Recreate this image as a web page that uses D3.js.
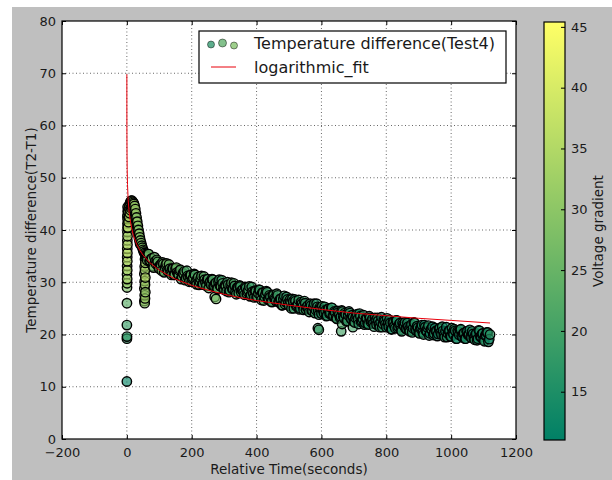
<!DOCTYPE html>
<html>
<head>
<meta charset="utf-8">
<script src="https://cdn.jsdelivr.net/npm/d3@7"></script>
<style>
  body { margin: 0; background: #fff; }
  svg text { font-family: "DejaVu Sans", sans-serif; fill: #1a1a1a; }
</style>
</head>
<body>
<div id="draw_here"></div>
<script type="text/javascript">
    // Data
    xTicks = [-200, 0, 200, 400, 600, 800, 1000, 1200]
    yTicks = [0, 10, 20, 30, 40, 50, 60, 70, 80]
    cbarTicks = [15, 20, 25, 30, 35, 40, 45]
    xlim = [-200, 1200]
    ylim = [0, 80]
    vlim = [11.03, 45.4]

    // start of the run: low points, column at t=0, peak, dip column
    earlyTime = [
        0.0, 0.2, 0.4, 0.1, 0.3, 0.5,
        0.8, 1.0, 0.6, 1.2, 0.9, 1.4, 1.1, 1.6, 1.3, 1.8, 1.5, 2.0, 1.7, 2.2, 1.9, 2.4, 2.1, 2.6, 2.3,
        2, 4, 6, 8, 10, 12, 14, 16, 18, 20, 22, 24, 26, 28, 30, 32, 34, 36, 38, 40, 42, 44, 46, 48, 50, 52, 54, 56, 58, 60, 62,
        3, 5, 7, 9, 11, 13, 15, 17, 19, 21, 23, 25, 27, 29, 31, 33, 35, 37, 39, 41,
        55, 54, 56, 55, 57, 54, 56, 55, 57, 54, 56, 55, 57, 56, 58
    ]
    earlyTemp = [
        11.0, 19.2, 19.6, 21.8, 26.0, 29.0,
        29.8, 30.6, 31.5, 32.3, 33.1, 34.0, 34.8, 35.6, 36.4, 37.2, 38.0, 38.8, 39.6, 40.4, 41.2, 42.0, 42.8, 43.6, 44.4,
        42.5, 43.5, 44.2, 44.8, 45.2, 45.5, 45.6, 45.6, 45.4, 45.2, 45.0, 44.6, 44.0, 43.2, 42.4, 41.6, 40.8, 40.0, 39.3, 38.6, 38.0, 37.5, 37.0, 36.6, 36.2, 35.9, 35.6, 35.4, 35.2, 35.0, 34.9,
        40.5, 41.5, 42.5, 43.2, 43.8, 44.2, 44.5, 44.6, 44.4, 44.1, 43.6, 43.0, 42.3, 41.5, 40.7, 40.0, 39.2, 38.5, 37.9, 37.3,
        26.0, 26.4, 26.9, 27.5, 28.1, 28.8, 29.5, 30.2, 30.9, 31.6, 32.3, 33.0, 33.7, 34.4, 35.1
    ]
    earlyVolt = [
        12, 17, 17.5, 18.5, 23, 28,
        31, 33, 30, 34, 32, 35, 33, 36, 34, 35, 32, 34, 31, 33, 30, 32, 29, 31, 28,
        31, 32, 33, 31, 34, 32, 33, 30, 32, 31, 33, 30, 32, 31, 29, 31, 30, 28, 30, 29, 28, 29, 27, 28, 29, 27, 28, 29, 27, 28, 27,
        36, 35, 34, 33, 32, 34, 33, 31, 33, 32, 31, 33, 30, 32, 31, 30, 31, 29, 30, 29,
        30, 31, 32, 33, 31, 34, 32, 33, 35, 31, 33, 34, 32, 33, 30
    ]

    // main decaying band, samples on whole 5 s
    bandTime = [
        65, 70, 75, 80, 85, 90, 95, 100, 105, 110,
        115, 120, 125, 130, 135, 140, 145, 150, 155, 160,
        165, 170, 175, 180, 185, 190, 195, 200, 205, 210,
        215, 220, 225, 230, 235, 240, 245, 250, 255, 260,
        265, 270, 275, 280, 285, 290, 295, 300, 305, 310,
        315, 320, 325, 330, 335, 340, 345, 350, 355, 360,
        365, 370, 375, 380, 385, 390, 395, 400, 405, 410,
        415, 420, 425, 430, 435, 440, 445, 450, 455, 460,
        465, 470, 475, 480, 485, 490, 495, 500, 505, 510,
        515, 520, 525, 530, 535, 540, 545, 550, 555, 560,
        565, 570, 575, 580, 585, 590, 595, 600, 605, 610,
        615, 620, 625, 630, 635, 640, 645, 650, 655, 660,
        665, 670, 675, 680, 685, 690, 695, 700, 705, 710,
        715, 720, 725, 730, 735, 740, 745, 750, 755, 760,
        765, 770, 775, 780, 785, 790, 795, 800, 805, 810,
        815, 820, 825, 830, 835, 840, 845, 850, 855, 860,
        865, 870, 875, 880, 885, 890, 895, 900, 905, 910,
        915, 920, 925, 930, 935, 940, 945, 950, 955, 960,
        965, 970, 975, 980, 985, 990, 995, 1000, 1005, 1010,
        1015, 1020, 1025, 1030, 1035, 1040, 1045, 1050, 1055, 1060,
        1065, 1070, 1075, 1080, 1085, 1090, 1095, 1100, 1105, 1110,
        1115, 1120
    ]
    bandTemp = [
        35.4, 34.0, 34.5, 33.1, 34.8, 33.5, 33.9, 32.6, 33.3, 33.8,
        31.9, 33.3, 32.3, 33.4, 31.8, 32.6, 31.4, 32.6, 31.9, 31.4,
        32.4, 31.1, 31.6, 30.4, 32.2, 30.9, 31.3, 30.1, 30.8, 31.4,
        29.6, 31.0, 30.1, 31.2, 29.6, 30.5, 29.3, 30.6, 29.9, 29.5,
        30.5, 29.2, 29.9, 28.7, 30.5, 29.2, 29.8, 28.6, 29.3, 30.0,
        28.1, 29.5, 28.7, 29.8, 28.2, 29.0, 27.9, 29.2, 28.5, 28.1,
        29.1, 27.8, 28.5, 27.3, 29.1, 27.8, 28.4, 27.2, 27.9, 28.5,
        26.6, 28.0, 27.2, 28.3, 26.7, 27.5, 26.3, 27.6, 26.9, 26.4,
        27.5, 26.2, 26.8, 25.6, 27.4, 26.2, 26.7, 25.5, 26.2, 26.8,
        25.0, 26.4, 25.5, 26.6, 25.0, 25.9, 24.7, 26.0, 25.3, 24.9,
        25.9, 24.6, 25.3, 24.1, 25.9, 24.6, 25.2, 24.0, 24.7, 25.3,
        23.5, 24.9, 24.0, 25.1, 23.5, 24.4, 23.2, 24.5, 23.8, 23.4,
        24.4, 23.1, 23.8, 22.6, 24.4, 23.1, 23.7, 22.5, 23.2, 23.9,
        22.0, 23.5, 22.6, 23.7, 22.2, 23.0, 21.9, 23.2, 22.6, 22.1,
        23.2, 21.9, 22.6, 21.4, 23.3, 22.0, 22.6, 21.4, 22.2, 22.8,
        21.0, 22.4, 21.6, 22.7, 21.2, 22.0, 20.9, 22.2, 21.6, 21.1,
        22.2, 20.9, 21.6, 20.4, 22.3, 21.0, 21.6, 20.4, 21.2, 21.8,
        20.0, 21.4, 20.6, 21.7, 20.2, 21.0, 19.9, 21.2, 20.6, 20.1,
        21.2, 20.0, 20.7, 19.5, 21.4, 20.2, 20.7, 19.6, 20.4, 21.0,
        19.2, 20.7, 19.9, 21.0, 19.5, 20.3, 19.2, 20.6, 20.0, 19.5,
        20.6, 19.3, 20.0, 18.9, 20.8, 19.6, 20.1, 19.0, 19.8, 20.4,
        18.6, 20.0
    ]
    bandVolt = [
        26, 24, 27, 23, 25, 28, 24, 26, 23, 25,
        24, 26, 23, 25, 22, 27, 24, 23, 26, 22,
        23, 25, 22, 24, 21, 26, 23, 22, 24, 21,
        22, 24, 21, 23, 20, 25, 22, 21, 23, 20,
        21, 23, 20, 22, 19, 24, 21, 20, 22, 19,
        21, 22, 19, 21, 18, 23, 20, 19, 21, 18,
        20, 22, 19, 21, 18, 22, 20, 19, 21, 18,
        20, 21, 18, 20, 17, 22, 19, 18, 20, 17,
        19, 21, 18, 20, 17, 21, 19, 18, 20, 17,
        19, 20, 17, 19, 16, 21, 18, 17, 19, 16,
        18, 20, 17, 19, 16, 20, 18, 17, 19, 16,
        18, 19, 16, 18, 15, 20, 17, 16, 18, 15,
        18, 19, 16, 18, 15, 19, 17, 16, 18, 15,
        17, 19, 16, 18, 15, 19, 17, 16, 18, 15,
        17, 18, 15, 17, 14, 19, 16, 15, 17, 14,
        17, 18, 15, 17, 14, 18, 16, 15, 17, 14,
        16, 18, 15, 17, 14, 18, 16, 15, 17, 14,
        16, 17, 14, 16, 13, 18, 15, 14, 16, 13,
        16, 17, 14, 16, 13, 17, 15, 14, 16, 13,
        16, 17, 14, 16, 13, 17, 15, 14, 16, 13,
        15, 17, 14, 16, 13, 17, 15, 14, 16, 13,
        15, 17
    ]

    // main band, samples in between (x.5 s)
    band2Time = [
        62.5, 67.5, 72.5, 77.5, 82.5, 87.5, 92.5, 97.5, 102.5, 107.5,
        112.5, 117.5, 122.5, 127.5, 132.5, 137.5, 142.5, 147.5, 152.5, 157.5,
        162.5, 167.5, 172.5, 177.5, 182.5, 187.5, 192.5, 197.5, 202.5, 207.5,
        212.5, 217.5, 222.5, 227.5, 232.5, 237.5, 242.5, 247.5, 252.5, 257.5,
        262.5, 267.5, 272.5, 277.5, 282.5, 287.5, 292.5, 297.5, 302.5, 307.5,
        312.5, 317.5, 322.5, 327.5, 332.5, 337.5, 342.5, 347.5, 352.5, 357.5,
        362.5, 367.5, 372.5, 377.5, 382.5, 387.5, 392.5, 397.5, 402.5, 407.5,
        412.5, 417.5, 422.5, 427.5, 432.5, 437.5, 442.5, 447.5, 452.5, 457.5,
        462.5, 467.5, 472.5, 477.5, 482.5, 487.5, 492.5, 497.5, 502.5, 507.5,
        512.5, 517.5, 522.5, 527.5, 532.5, 537.5, 542.5, 547.5, 552.5, 557.5,
        562.5, 567.5, 572.5, 577.5, 582.5, 587.5, 592.5, 597.5, 602.5, 607.5,
        612.5, 617.5, 622.5, 627.5, 632.5, 637.5, 642.5, 647.5, 652.5, 657.5,
        662.5, 667.5, 672.5, 677.5, 682.5, 687.5, 692.5, 697.5, 702.5, 707.5,
        712.5, 717.5, 722.5, 727.5, 732.5, 737.5, 742.5, 747.5, 752.5, 757.5,
        762.5, 767.5, 772.5, 777.5, 782.5, 787.5, 792.5, 797.5, 802.5, 807.5,
        812.5, 817.5, 822.5, 827.5, 832.5, 837.5, 842.5, 847.5, 852.5, 857.5,
        862.5, 867.5, 872.5, 877.5, 882.5, 887.5, 892.5, 897.5, 902.5, 907.5,
        912.5, 917.5, 922.5, 927.5, 932.5, 937.5, 942.5, 947.5, 952.5, 957.5,
        962.5, 967.5, 972.5, 977.5, 982.5, 987.5, 992.5, 997.5, 1002.5, 1007.5,
        1012.5, 1017.5, 1022.5, 1027.5, 1032.5, 1037.5, 1042.5, 1047.5, 1052.5, 1057.5,
        1062.5, 1067.5, 1072.5, 1077.5, 1082.5, 1087.5, 1092.5, 1097.5, 1102.5, 1107.5,
        1112.5, 1117.5
    ]
    band2Temp = [
        34.2, 35.4, 34.1, 34.5, 32.8, 34.0, 34.3, 32.9, 33.3, 32.2,
        33.5, 32.7, 33.6, 32.0, 32.6, 31.4, 32.6, 31.4, 32.8, 31.6,
        32.2, 30.6, 31.7, 32.1, 30.8, 31.2, 30.1, 31.4, 30.6, 31.6,
        30.1, 30.7, 29.5, 30.7, 29.6, 31.1, 29.9, 30.5, 28.9, 30.2,
        30.6, 29.3, 29.8, 28.8, 30.1, 29.3, 30.4, 28.8, 29.4, 28.3,
        29.5, 28.4, 29.9, 28.7, 29.3, 27.7, 29.0, 29.4, 28.1, 28.6,
        27.6, 28.9, 28.2, 29.2, 27.6, 28.2, 27.1, 28.3, 27.2, 28.6,
        27.4, 28.0, 26.5, 27.7, 28.1, 26.8, 27.2, 26.2, 27.5, 26.7,
        27.8, 26.2, 26.8, 25.6, 26.8, 25.8, 27.2, 26.0, 26.6, 25.0,
        26.3, 26.7, 25.4, 25.8, 24.8, 26.2, 25.4, 26.4, 24.8, 25.5,
        24.3, 25.5, 24.5, 25.9, 24.7, 25.3, 23.8, 25.0, 25.4, 24.1,
        24.6, 23.6, 24.9, 24.1, 25.1, 23.6, 24.2, 23.0, 24.2, 23.2,
        24.6, 23.4, 24.1, 22.5, 23.7, 24.1, 22.9, 23.3, 22.3, 23.7,
        22.9, 24.0, 22.4, 23.0, 21.9, 23.1, 22.1, 23.5, 22.4, 23.0,
        21.5, 22.7, 23.2, 21.9, 22.4, 21.4, 22.8, 22.0, 23.1, 21.5,
        22.2, 21.0, 22.3, 21.2, 22.7, 21.5, 22.2, 20.6, 21.9, 22.3,
        21.1, 21.5, 20.6, 21.9, 21.2, 22.2, 20.7, 21.3, 20.2, 21.4,
        20.4, 21.8, 20.7, 21.3, 19.8, 21.0, 21.5, 20.2, 20.7, 19.7,
        21.1, 20.4, 21.5, 19.9, 20.6, 19.5, 20.7, 19.7, 21.2, 20.0,
        20.7, 19.2, 20.5, 20.9, 19.7, 20.2, 19.2, 20.6, 19.9, 20.9,
        19.4, 20.1, 19.0, 20.2, 19.2, 20.7, 19.5, 20.2, 18.7, 19.9,
        20.4, 19.1
    ]
    band2Volt = [
        23, 25, 28, 24, 26, 23, 25, 26, 24, 27,
        25, 22, 27, 24, 23, 26, 22, 24, 26, 23,
        24, 21, 26, 23, 22, 24, 21, 23, 25, 22,
        23, 20, 25, 22, 21, 23, 20, 22, 24, 21,
        22, 19, 24, 21, 20, 22, 19, 21, 23, 20,
        21, 18, 23, 20, 19, 21, 18, 21, 22, 19,
        21, 18, 22, 20, 19, 21, 18, 20, 22, 19,
        20, 17, 22, 19, 18, 20, 17, 20, 21, 18,
        20, 17, 21, 19, 18, 20, 17, 19, 21, 18,
        19, 16, 21, 18, 17, 19, 16, 19, 20, 17,
        19, 16, 20, 18, 17, 19, 16, 18, 20, 17,
        18, 15, 20, 17, 16, 18, 15, 18, 19, 16,
        18, 15, 19, 17, 16, 18, 15, 18, 19, 16,
        18, 15, 19, 17, 16, 18, 15, 17, 19, 16,
        17, 14, 19, 16, 15, 17, 14, 17, 18, 15,
        17, 14, 18, 16, 15, 17, 14, 17, 18, 15,
        17, 14, 18, 16, 15, 17, 14, 16, 18, 15,
        16, 13, 18, 15, 14, 16, 13, 16, 17, 14,
        16, 13, 17, 15, 14, 16, 13, 16, 17, 14,
        16, 13, 17, 15, 14, 16, 13, 16, 17, 14,
        16, 13, 17, 15, 14, 16, 13, 15, 17, 14,
        16, 13
    ]

    // stray points below the band
    outTime = [271, 275, 589, 592, 661, 664, 697]
    outTemp = [27.2, 26.8, 21.2, 20.9, 20.6, 22.0, 21.4]
    outVolt = [26, 27, 18, 19, 20, 21, 20]

    // logarithmic fit
    fitTime = [0.013, 0.05, 0.2, 0.5, 1, 2, 4, 7, 10, 15, 20, 30, 40, 50, 70, 100, 125, 150, 200, 250, 300, 350, 400, 500, 600, 700, 800, 900, 1000, 1120]
    fitTemp = [69.8, 64.2, 58.3, 54.5, 51.6, 48.7, 45.8, 43.4, 42.0, 40.3, 39.0, 37.3, 36.1, 35.2, 33.8, 32.3, 31.4, 30.6, 29.4, 28.5, 27.7, 27.05, 26.5, 25.6, 24.8, 24.1, 23.6, 23.1, 22.7, 22.2]

    legendLabels = ["Temperature difference(Test4)", "logarithmic_fit"]
    legendVolt = [16, 23, 28]

    // Layout
    canvas = ({width: 612, height: 480})
    plot = ({left: 62, right: 516, top: 21, bottom: 439})
    cbar = ({left: 544, right: 565, top: 22, bottom: 440})

    x = d3.scaleLinear().domain(xlim).range([plot.left, plot.right])
    y = d3.scaleLinear().domain(ylim).range([plot.bottom, plot.top])
    v = d3.scaleLinear().domain(vlim).range([cbar.bottom, cbar.top])
    summer = d3.scaleLinear().domain(vlim).range(["rgb(0,128,102)", "rgb(255,255,102)"])

    var svg = d3.select("div#draw_here").append("svg")
        .attr("width", canvas.width)
        .attr("height", canvas.height)

    // figure background
    svg.append("rect").attr("width", canvas.width).attr("height", canvas.height).attr("fill", "#fff")
    svg.append("rect").attr("x", 12).attr("y", 7)
        .attr("width", canvas.width - 12).attr("height", canvas.height - 7)
        .attr("fill", "#bfbfbf")

    svg.append("clipPath").attr("id", "clip")
        .append("rect")
        .attr("x", plot.left).attr("y", plot.top)
        .attr("width", plot.right - plot.left).attr("height", plot.bottom - plot.top)

    svg.append("rect")
        .attr("x", plot.left).attr("y", plot.top)
        .attr("width", plot.right - plot.left).attr("height", plot.bottom - plot.top)
        .attr("fill", "#fff")

    // dotted grid
    grid = svg.append("g")
        .attr("stroke", "#000")
        .attr("stroke-width", 0.6)
        .attr("stroke-dasharray", "1,2.5")
    grid.selectAll(".gx").data(xTicks.slice(1, -1)).join("line")
        .attr("x1", d => x(d)).attr("x2", d => x(d))
        .attr("y1", plot.top).attr("y2", plot.bottom)
    grid.selectAll(".gy").data(yTicks.slice(1, -1)).join("line")
        .attr("y1", d => y(d)).attr("y2", d => y(d))
        .attr("x1", plot.left).attr("x2", plot.right)

    // scatter, in time order
    points = []
    earlyTime.forEach((t, i) => points.push({t: t, temp: earlyTemp[i], volt: earlyVolt[i]}))
    bandTime.forEach((t, i) => points.push({t: t, temp: bandTemp[i], volt: bandVolt[i]}))
    band2Time.forEach((t, i) => points.push({t: t, temp: band2Temp[i], volt: band2Volt[i]}))
    outTime.forEach((t, i) => points.push({t: t, temp: outTemp[i], volt: outVolt[i]}))
    points.sort((a, b) => a.t - b.t)

    svg.append("g")
        .attr("clip-path", "url(#clip)")
        .selectAll("circle").data(points).join("circle")
        .attr("cx", d => x(d.t))
        .attr("cy", d => y(d.temp))
        .attr("r", 4.7)
        .attr("fill", d => summer(d.volt))
        .attr("fill-opacity", 0.65)
        .attr("stroke", "#000")
        .attr("stroke-opacity", 1)
        .attr("stroke-width", 1.4)

    // fit line
    line = d3.line()
        .x(d => x(d[0]))
        .y(d => y(d[1]))
    svg.append("path")
        .attr("clip-path", "url(#clip)")
        .attr("fill", "none")
        .attr("stroke", "#e8000b")
        .attr("stroke-width", 1)
        .attr("d", line(d3.zip(fitTime, fitTemp)))

    // axes, inward ticks on all four sides
    function styleAxis(g) {
        g.select(".domain").remove()
        g.selectAll(".tick line").attr("stroke", "#000").attr("stroke-width", 1)
        g.selectAll("text").attr("font-size", 13).attr("font-family", "DejaVu Sans").attr("fill", "#1a1a1a")
    }
    svg.append("g")
        .attr("transform", `translate(0,${plot.bottom})`)
        .call(d3.axisBottom(x).tickValues(xTicks).tickFormat(d3.format("d")).tickSizeInner(-4).tickSizeOuter(0).tickPadding(9))
        .call(styleAxis)
    svg.append("g")
        .attr("transform", `translate(0,${plot.top})`)
        .call(d3.axisTop(x).tickValues(xTicks).tickSizeInner(-4).tickSizeOuter(0).tickFormat(""))
        .call(styleAxis)
    svg.append("g")
        .attr("transform", `translate(${plot.left},0)`)
        .call(d3.axisLeft(y).tickValues(yTicks).tickSizeInner(-4).tickSizeOuter(0).tickPadding(6))
        .call(styleAxis)
    svg.append("g")
        .attr("transform", `translate(${plot.right},0)`)
        .call(d3.axisRight(y).tickValues(yTicks).tickSizeInner(-4).tickSizeOuter(0).tickFormat(""))
        .call(styleAxis)

    svg.append("rect")
        .attr("x", plot.left).attr("y", plot.top)
        .attr("width", plot.right - plot.left).attr("height", plot.bottom - plot.top)
        .attr("fill", "none").attr("stroke", "#000").attr("stroke-width", 1.2)

    // axis titles
    svg.append("text")
        .attr("x", (plot.left + plot.right) / 2).attr("y", 474)
        .attr("text-anchor", "middle").attr("font-size", 13.5)
        .text("Relative Time(seconds)")
    svg.append("text")
        .attr("transform", `translate(36,${(plot.top + plot.bottom) / 2}) rotate(-90)`)
        .attr("text-anchor", "middle").attr("font-size", 13.5)
        .text("Temperature difference(T2-T1)")

    // legend
    legend = svg.append("g")
    legend.append("rect")
        .attr("x", 199).attr("y", 31).attr("width", 307).attr("height", 52)
        .attr("fill", "#fff").attr("stroke", "#000").attr("stroke-width", 1.2)
    legend.selectAll("circle").data(legendVolt).join("circle")
        .attr("cx", (d, i) => 211 + i * 11.5)
        .attr("cy", (d, i) => [44.5, 43, 45.5][i])
        .attr("r", (d, i) => [3.5, 4, 3.5][i])
        .attr("fill", d => summer(d))
        .attr("fill-opacity", 0.75)
        .attr("stroke", "#000").attr("stroke-opacity", 0.75).attr("stroke-width", 0.6)
    legend.append("line")
        .attr("x1", 211).attr("x2", 236).attr("y1", 67).attr("y2", 67)
        .attr("stroke", "#e8000b").attr("stroke-width", 1)
    legend.selectAll("text").data(legendLabels).join("text")
        .attr("x", 254).attr("y", (d, i) => 49 + i * 24)
        .attr("font-size", 16)
        .text(d => d)

    // colorbar
    grad = svg.append("defs").append("linearGradient")
        .attr("id", "summer").attr("x1", 0).attr("x2", 0).attr("y1", 1).attr("y2", 0)
    grad.append("stop").attr("offset", 0).attr("stop-color", summer(vlim[0]))
    grad.append("stop").attr("offset", 1).attr("stop-color", summer(vlim[1]))
    svg.append("rect")
        .attr("x", cbar.left).attr("y", cbar.top)
        .attr("width", cbar.right - cbar.left).attr("height", cbar.bottom - cbar.top)
        .attr("fill", "url(#summer)")
    svg.append("g")
        .attr("transform", `translate(${cbar.right},0)`)
        .call(d3.axisRight(v).tickValues(cbarTicks).tickSizeInner(-4).tickSizeOuter(0).tickPadding(6))
        .call(styleAxis)
    svg.append("rect")
        .attr("x", cbar.left).attr("y", cbar.top)
        .attr("width", cbar.right - cbar.left).attr("height", cbar.bottom - cbar.top)
        .attr("fill", "none").attr("stroke", "#000").attr("stroke-width", 1.2)
    svg.append("text")
        .attr("transform", `translate(603,${(cbar.top + cbar.bottom) / 2}) rotate(-90)`)
        .attr("text-anchor", "middle").attr("font-size", 13.5)
        .text("Voltage gradient")
</script>
</body>
</html>
